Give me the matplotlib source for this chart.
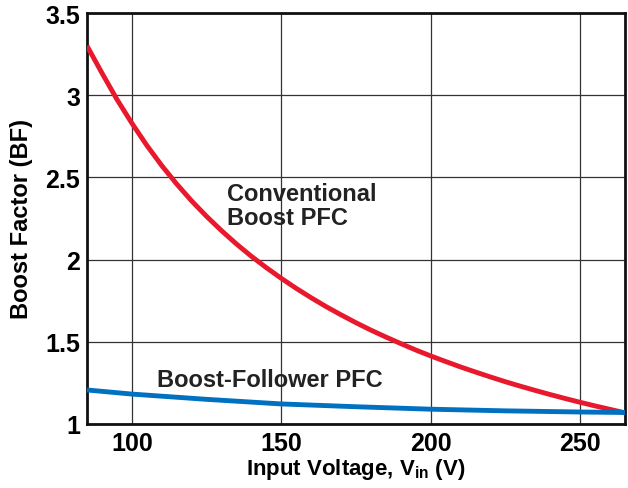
import matplotlib.pyplot as plt

plt.rcParams['font.family'] = ['Liberation Sans', 'DejaVu Sans']
plt.rcParams['font.weight'] = 'bold'

# Conventional boost PFC curve
vin_conv = [85, 90, 95, 100, 105, 110, 115, 120, 125, 130, 135, 140, 145, 150,
            155, 160, 165, 170, 175, 180, 185, 190, 195, 200, 205, 210, 215,
            220, 225, 230, 235, 240, 245, 250, 255, 260, 265]
bf_conv = [3.30, 3.135, 2.975, 2.83, 2.695, 2.572, 2.46, 2.357, 2.263, 2.176,
           2.095, 2.02, 1.951, 1.886, 1.825, 1.768, 1.714, 1.664, 1.616, 1.571,
           1.529, 1.489, 1.45, 1.414, 1.38, 1.347, 1.316, 1.286, 1.257, 1.23,
           1.204, 1.179, 1.155, 1.132, 1.11, 1.089, 1.068]

# Boost-follower PFC curve
vin_foll = [85, 100, 125, 150, 175, 200, 225, 250, 265]
bf_foll = [1.207, 1.182, 1.15, 1.122, 1.105, 1.09, 1.08, 1.073, 1.07]

xticks = [100, 150, 200, 250]
yticks = [1, 1.5, 2, 2.5, 3, 3.5]
yticklabels = ['1', '1.5', '2', '2.5', '3', '3.5']

fig = plt.figure(figsize=(6.28, 4.89), dpi=100)
ax = fig.add_axes([87 / 628, 64 / 489, 538 / 628, 411 / 489])

ax.plot(vin_conv, bf_conv, color='#E8192C', lw=3.5, solid_capstyle='butt', zorder=3)
ax.plot(vin_foll, bf_foll, color='#0070C0', lw=3.5, solid_capstyle='butt', zorder=3)

ax.set_xlim(85, 265)
ax.set_ylim(1, 3.5)
ax.set_xticks(xticks)
ax.set_yticks(yticks)
ax.set_yticklabels(yticklabels)
ax.grid(True, color='#333333', lw=0.9)
ax.tick_params(length=0, labelsize=18, pad=5)
for s in ax.spines.values():
    s.set_linewidth(2)
    s.set_color('#111111')

ax.set_xlabel('Input Voltage, V$_{\\mathregular{in}}$ (V)', fontsize=16,
              fontweight='bold', labelpad=1)
ax.set_ylabel('Boost Factor (BF)', fontsize=17, fontweight='bold', labelpad=9)

ax.text(132, 2.47, 'Conventional\nBoost PFC', fontsize=17, fontweight='bold',
        color='#222222', va='top', ha='left', linespacing=1.05)
ax.text(108.5, 1.27, 'Boost-Follower PFC', fontsize=17, fontweight='bold',
        color='#222222', va='center', ha='left')

fig.savefig('out.png', dpi=100)
